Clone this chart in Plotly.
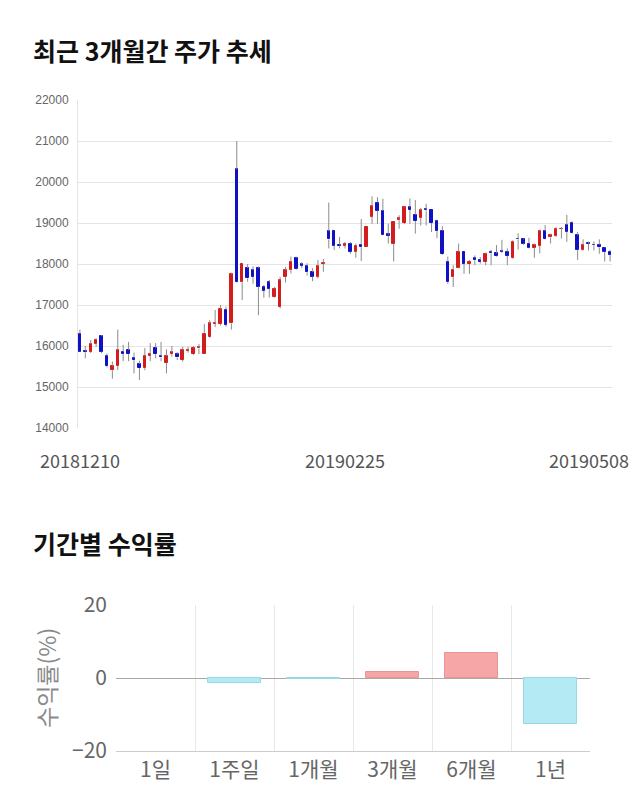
import plotly.graph_objects as go

# ---------------- data ----------------
opens = [16300, 15870, 15860, 16060, 16240, 15760, 15410, 15510, 15860, 15900,
         15710, 15560, 15460, 15760, 15960, 15760, 15590, 15800, 15800, 15660,
         15880, 15800, 15940, 15800, 16210, 16540, 16540, 16890, 16550, 20310,
         17550, 17900, 17850, 17900, 17450, 17550, 17200, 16960, 17690, 17850,
         18150, 18000, 17950, 17800, 17690, 18000, 18800, 18800, 18470, 18450,
         18500, 18300, 18470, 18410, 19150, 19500, 19300, 18720, 18500, 19070,
         19000, 19380, 19200, 19130, 19330, 19320, 19060, 18810, 18060, 17690,
         17910, 18300, 18000, 18150, 18090, 18050, 18300, 18260, 18310, 18300,
         18150, 18610, 18600, 18500, 18400, 18450, 18800, 18650, 18690, 18850,
         18950, 19010, 18700, 18350, 18510, 18470, 18470, 18400, 18300]
highs = [16400, 16000, 16150, 16190, 16270, 15820, 15620, 16400, 16030, 16100,
         15840, 15640, 15950, 16070, 16070, 16100, 15920, 16000, 15850, 15980,
         15980, 16000, 16050, 16540, 16630, 16880, 17000, 16960, 17790, 21000,
         18000, 18000, 17940, 17940, 17490, 17610, 17440, 17690, 17930, 18180,
         18180, 18050, 18020, 17900, 18100, 18120, 19500, 18800, 18660, 18540,
         18540, 18500, 19100, 18900, 19650, 19630, 19590, 18980, 19020, 19190,
         19400, 19600, 19560, 19370, 19470, 19320, 19080, 18920, 18180, 17970,
         18500, 18300, 18100, 18210, 18170, 18280, 18340, 18460, 18590, 18380,
         18580, 18750, 18620, 18640, 18500, 18840, 18950, 18740, 18900, 18900,
         19200, 19040, 18780, 18600, 18550, 18550, 18600, 18410, 18340]
lows = [15850, 15700, 15830, 15980, 15830, 15480, 15200, 15410, 15630, 15630,
        15330, 15170, 15410, 15630, 15700, 15630, 15330, 15740, 15660, 15620,
        15840, 15780, 15800, 15800, 16190, 16460, 16500, 16470, 16400, 17540,
        17120, 17570, 17520, 16750, 17180, 17180, 17180, 16920, 17550, 17770,
        17860, 17900, 17720, 17580, 17650, 17810, 18380, 18340, 18380, 18380,
        18250, 18150, 18070, 18410, 18980, 18980, 18700, 18500, 18060, 18860,
        18980, 18980, 18740, 18940, 18940, 18780, 18630, 18220, 17510, 17440,
        17900, 17760, 17760, 17970, 18010, 17970, 17970, 18180, 18270, 17970,
        18130, 18350, 18470, 18380, 18150, 18260, 18590, 18500, 18660, 18620,
        18540, 18740, 18100, 18330, 18330, 18330, 18250, 18060, 18060]
closes = [15860, 15850, 16050, 16150, 15860, 15510, 15510, 15900, 15800, 15800,
          15660, 15460, 15760, 15800, 15800, 15720, 15760, 15850, 15720, 15900,
          15910, 15960, 15970, 16300, 16550, 16560, 16900, 16510, 17750, 17550,
          18000, 17650, 17690, 17450, 17350, 17390, 17400, 17600, 17850, 18060,
          17890, 17960, 17800, 17690, 17950, 18020, 18600, 18450, 18450, 18500,
          18300, 18450, 18410, 18900, 19410, 19300, 18700, 18690, 19020, 19110,
          19380, 19320, 19050, 19310, 19310, 19000, 18810, 18240, 17550, 17850,
          18300, 18000, 18060, 18090, 18050, 18240, 18260, 18200, 18290, 18200,
          18540, 18600, 18500, 18400, 18460, 18800, 18600, 18700, 18850, 18860,
          18790, 18750, 18350, 18460, 18500, 18460, 18410, 18300, 18220]

date_labels = ["20181210", "20190225", "20190508"]
date_label_idx = [0, 49, 98]
price_ticks = [14000, 15000, 16000, 17000, 18000, 19000, 20000, 21000, 22000]

periods = ["1일", "1주일", "1개월", "3개월", "6개월", "1년"]
returns = [0.0, -1.3, -0.3, 1.7, 6.9, -12.7]
return_ticks = [-20, 0, 20]

# ---------------- style ----------------
W, H = 640, 810
UP, DOWN, WICK = "#D41C1C", "#1010C4", "#8c8c8c"
POS_FILL, POS_LINE = "#F6A6A6", "#E99595"
NEG_FILL, NEG_LINE = "#B3EAF3", "#98D8E6"
KFONT = "Noto Sans CJK KR"

idx = list(range(len(opens)))
body_base = [min(o, c) for o, c in zip(opens, closes)]
body_h = [abs(c - o) for o, c in zip(opens, closes)]
body_col = [UP if c >= o else DOWN for o, c in zip(opens, closes)]

wx, wy = [], []
for i, o, h, l, c in zip(idx, opens, highs, lows, closes):
    top, bot = max(o, c), min(o, c)
    if h > top:
        wx += [i, i, None]; wy += [top, h, None]
    if l < bot:
        wx += [i, i, None]; wy += [l, bot, None]

fig = go.Figure()
fig.add_trace(go.Bar(x=idx, y=body_h, base=body_base, width=0.45,
                     marker=dict(color=body_col, line=dict(color=body_col, width=1)),
                     xaxis="x", yaxis="y", hoverinfo="skip", showlegend=False))
fig.add_trace(go.Scatter(x=wx, y=wy, mode="lines", line=dict(color=WICK, width=1),
                         xaxis="x", yaxis="y", hoverinfo="skip", showlegend=False))

ret_fill = [POS_FILL if r >= 0 else NEG_FILL for r in returns]
ret_line = [POS_LINE if r >= 0 else NEG_LINE for r in returns]
ret_lw = [0 if r == 0 else 1 for r in returns]
fig.add_trace(go.Bar(x=periods, y=returns, width=0.68,
                     marker=dict(color=ret_fill, line=dict(color=ret_line, width=ret_lw)),
                     xaxis="x2", yaxis="y2", hoverinfo="skip", showlegend=False))

def px_x(p):
    return p / W

def px_y(p):
    return 1 - p / H

annotations = [
    dict(text="<b>최근 3개월간 주가 추세</b>", x=px_x(31), y=px_y(50), xref="paper", yref="paper",
         xanchor="left", yanchor="middle", showarrow=False,
         font=dict(family=KFONT, size=25, color="#111")),
    dict(text="<b>기간별 수익률</b>", x=px_x(31), y=px_y(543), xref="paper", yref="paper",
         xanchor="left", yanchor="middle", showarrow=False,
         font=dict(family=KFONT, size=25, color="#111")),
    dict(text="수익률(%)", x=px_x(46), y=px_y(678), xref="paper", yref="paper",
         textangle=-90, xanchor="center", yanchor="middle", showarrow=False,
         font=dict(family=KFONT, size=23, color="#8a8a8a")),
]
for k, (lab, ix) in enumerate(zip(date_labels, date_label_idx)):
    last = k == len(date_labels) - 1
    annotations.append(dict(text=lab, x=ix, y=px_y(460), xref="x", yref="paper",
                            xanchor="right" if last else "center", yanchor="middle",
                            xshift=21 if last else 0, showarrow=False,
                            font=dict(family=KFONT, size=18, color="#555")))

fig.update_layout(
    width=W, height=H, margin=dict(l=0, r=0, t=0, b=0),
    paper_bgcolor="white", plot_bgcolor="white", bargap=0, barmode="overlay",
    showlegend=False, annotations=annotations,
    xaxis=dict(domain=[px_x(78), px_x(612)], range=[-0.35, 98.35], showgrid=False,
               showticklabels=False, zeroline=False, showline=False, fixedrange=True,
               anchor="y"),
    yaxis=dict(domain=[px_y(428), px_y(100)], range=[14000, 22000], tickvals=price_ticks,
               tickformat="d",
               gridcolor="#e4e4e4", gridwidth=1, zeroline=False, showline=True,
               linecolor="#e4e4e4", linewidth=1, ticks="", ticklabelstandoff=6,
               tickfont=dict(family="Liberation Sans, Arial", size=12, color="#666"),
               automargin=False, anchor="x"),
    xaxis2=dict(domain=[px_x(116), px_x(590)], type="category", tickson="boundaries",
                showgrid=True, gridcolor="#e8e8e8", ticks="", showline=True,
                linecolor="#cccccc", linewidth=1, zeroline=False,
                tickfont=dict(family=KFONT, size=21, color="#666"),
                automargin=False, anchor="y2"),
    yaxis2=dict(domain=[px_y(751), px_y(605)], range=[-20, 20], tickvals=return_ticks,
                gridcolor="#e8e8e8", zeroline=True, zerolinecolor="#a8a8a8",
                zerolinewidth=1, showline=False, ticks="", ticklabelstandoff=8,
                tickfont=dict(family=KFONT, size=21, color="#666"),
                automargin=False, anchor="x2"),
)

fig.write_html("out.html")
